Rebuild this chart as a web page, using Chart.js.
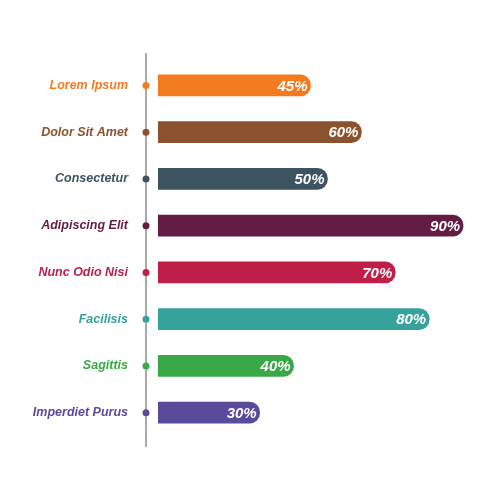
<!DOCTYPE html>
<html>
<head>
<meta charset="utf-8">
<script src="https://cdn.jsdelivr.net/npm/chart.js@4/dist/chart.umd.min.js"></script>
<style>
  html, body { margin: 0; padding: 0; background: #fff; }
  #wrap { width: 500px; height: 500px; }
</style>
</head>
<body>
<div id="wrap"><canvas id="barChart"></canvas></div>
<script>
const categories = ['Lorem Ipsum', 'Dolor Sit Amet', 'Consectetur', 'Adipiscing Elit', 'Nunc Odio Nisi', 'Facilisis', 'Sagittis', 'Imperdiet Purus'];
const values = [45, 60, 50, 90, 70, 80, 40, 30];
const colors = ['#f47a20', '#8b5230', '#3d5360', '#641c45', '#be1e48', '#35a39b', '#39a846', '#5a4a9c'];

// vertical timeline with coloured dots
const timelinePlugin = {
    id: 'timeline',
    afterDatasetsDraw(chart) {
        const ctx = chart.ctx;
        const y = chart.scales.y;
        const lineX = chart.chartArea.left - 12;
        ctx.save();
        ctx.strokeStyle = '#8c8c8c';
        ctx.lineWidth = 1.5;
        ctx.beginPath();
        ctx.moveTo(lineX, 53);
        ctx.lineTo(lineX, 447);
        ctx.stroke();
        categories.forEach((c, i) => {
            ctx.fillStyle = colors[i];
            ctx.beginPath();
            ctx.arc(lineX, y.getPixelForValue(i), 3.5, 0, Math.PI * 2);
            ctx.fill();
        });

        // percent labels inside bar ends
        const meta = chart.getDatasetMeta(0);
        ctx.fillStyle = '#fff';
        ctx.font = 'italic bold 15px "Liberation Sans", Arial, sans-serif';
        ctx.textAlign = 'right';
        ctx.textBaseline = 'middle';
        meta.data.forEach((bar, i) => {
            ctx.fillText(values[i] + '%', bar.x - 3, bar.y + 1);
        });
        ctx.restore();
    }
};

new Chart(document.getElementById('barChart').getContext('2d'), {
    type: 'bar',
    data: {
        labels: categories,
        datasets: [{
            data: values,
            backgroundColor: colors,
            borderWidth: 0,
            borderSkipped: false,
            borderRadius: { topLeft: 0, bottomLeft: 0, topRight: 11, bottomRight: 11 },
            barThickness: 21
        }]
    },
    options: {
        indexAxis: 'y',
        responsive: true,
        maintainAspectRatio: false,
        animation: false,
        layout: { padding: { top: 62, bottom: 64, left: 0, right: 3 } },
        plugins: {
            legend: { display: false },
            tooltip: { enabled: false }
        },
        scales: {
            x: {
                display: false,
                min: 0,
                max: 100
            },
            y: {
                grid: { display: false },
                border: { display: false },
                afterFit(scale) { scale.width = 158; },
                ticks: {
                    padding: 22,
                    color: (ctx) => colors[ctx.index],
                    font: { family: '"Liberation Sans", Arial, sans-serif', size: 12.5, weight: 'bold', style: 'italic' }
                }
            }
        }
    },
    plugins: [timelinePlugin]
});
</script>
</body>
</html>
